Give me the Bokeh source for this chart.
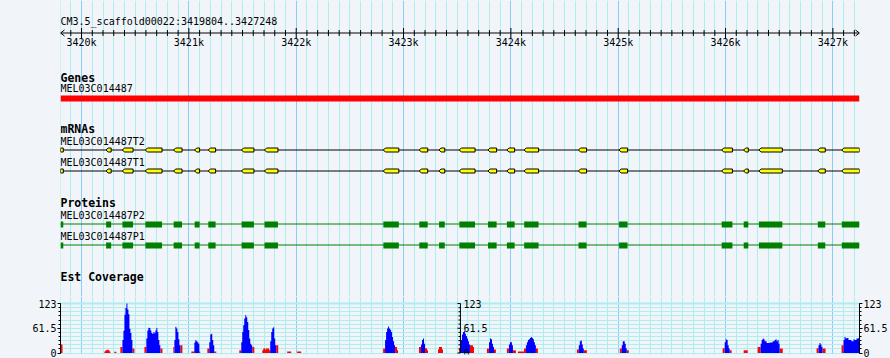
from bokeh.plotting import figure
from bokeh.layouts import column
from bokeh.models import Range1d, FixedTicker, LinearAxis, Span, ColumnDataSource
from bokeh.core.properties import value
from bokeh.embed import file_html
from bokeh.resources import INLINE

# ---------------- data ----------------
REGION_NAME = "CM3.5_scaffold00022"
REGION_START = 3419804
REGION_END = 3427248

ruler_major = [3420000, 3421000, 3422000, 3423000, 3424000, 3425000, 3426000, 3427000]
ruler_labels = ["3420k", "3421k", "3422k", "3423k", "3424k", "3425k", "3426k", "3427k"]
ruler_minor = [b for b in range(3419900, 3427300, 100) if b % 1000]
grid_minor = list(range(3419800, 3427300, 100))

gene_name = "MEL03C014487"
gene_start = 3419804
gene_end = 3427248

mrna_names = ["MEL03C014487T2", "MEL03C014487T1"]
exon_start = [3419804, 3420229, 3420381, 3420595, 3420858, 3421054, 3421181, 3421491,
              3421705, 3422812, 3423147, 3423331, 3423520, 3423787, 3423963, 3424124,
              3424630, 3425008, 3425964, 3426169, 3426311, 3426860, 3427083]
exon_end = [3419830, 3420276, 3420480, 3420750, 3420936, 3421100, 3421249, 3421606,
            3421830, 3422956, 3423225, 3423384, 3423666, 3423867, 3424035, 3424258,
            3424705, 3425087, 3426064, 3426212, 3426529, 3426929, 3427248]

protein_names = ["MEL03C014487P2", "MEL03C014487P1"]
cds_start = [3419804, 3420229, 3420381, 3420595, 3420858, 3421054, 3421181, 3421491,
             3421705, 3422812, 3423147, 3423331, 3423520, 3423787, 3423963, 3424124,
             3424630, 3425008, 3425964, 3426169, 3426311, 3426860, 3427083]
cds_end = [3419830, 3420276, 3420480, 3420750, 3420936, 3421100, 3421249, 3421606,
           3421830, 3422956, 3423225, 3423384, 3423666, 3423867, 3424035, 3424258,
           3424705, 3425087, 3426064, 3426212, 3426529, 3426929, 3427248]

EST_BIN_BP = 9.305
est_red_start = [3419804, 3420213, 3420306, 3420362, 3420474, 3420586, 3420735, 3420855,
                 3420921, 3421023, 3421097, 3421172, 3421237, 3421470, 3421591, 3421684,
                 3421814, 3421916, 3422009, 3422810, 3422921, 3423144, 3423200, 3423321,
                 3423517, 3423619, 3423777, 3423842, 3423963, 3424019, 3424066, 3424122,
                 3424233, 3424615, 3424680, 3425015, 3425080, 3425973, 3426038, 3426169,
                 3426299, 3426505, 3426848, 3426904, 3427081]
est_red_vals = [[21, 21], [4, 7, 7, 9, 7, 4], [3, 3], [15, 15], [11, 11], [15, 15], [11, 11], [15],
                [19, 19], [4, 4, 4], [4], [11, 11], [4, 4], [7, 7], [15, 15], [7, 11, 12, 9, 12, 11, 11, 7],
                [19, 19], [4, 4, 4, 4], [4, 4, 4, 4], [11, 11], [15, 15, 7], [15, 15], [12, 12, 7], [9, 15, 15, 15, 9],
                [11, 11], [19, 19, 19, 15], [11, 11], [9, 9], [11, 11], [7, 7, 7], [4, 4, 4, 4, 4, 4], [11, 11],
                [11, 11], [9, 9], [7, 7, 7], [11, 11], [7, 7], [12, 12], [7, 7], [7, 7, 7, 7],
                [15, 15, 15], [11, 11, 11], [12, 12], [11, 11, 11], [19, 19]]
est_blue_start = [3420381, 3420604, 3420865, 3421051, 3421190, 3421488, 3421758, 3422828,
                  3423163, 3423535, 3423796, 3423982, 3424140, 3424633, 3425033, 3425992,
                  3426327, 3426866, 3427099]
est_blue_vals = [[32, 55, 95, 112, 123, 108, 96, 60, 50, 32],
                 [36, 56, 63, 62, 56, 50, 47, 52, 49, 56, 62, 52, 32, 19],
                 [32, 65, 61, 52, 34, 19],
                 [26, 32, 29, 27, 23],
                 [27, 46, 48, 32, 19],
                 [27, 52, 69, 86, 94, 89, 77, 57, 36, 23, 19],
                 [29, 52, 61, 64, 36, 19],
                 [32, 52, 61, 66, 61, 58, 52, 40, 29, 19],
                 [21, 32, 36, 23],
                 [32, 46, 52, 54, 48, 42, 36, 29, 21],
                 [27, 36, 34, 23, 15],
                 [21, 27, 27, 19],
                 [19, 27, 32, 34, 37, 40, 37, 34, 27, 19],
                 [19, 29, 31, 21, 11],
                 [19, 29, 29, 23, 12],
                 [27, 34, 32, 19, 11],
                 [23, 32, 36, 34, 29, 29, 25, 25, 25, 26, 26, 26, 29, 29, 32, 34, 29, 32, 23],
                 [19, 25, 21, 15],
                 [32, 40, 36, 37, 37, 32, 32, 32, 29, 29, 34, 32, 32, 36, 36, 37]]
cov_ticks = [0, 61.5, 123]
cov_tick_labels = ["0", "61.5", "123"]
cov_grid = [0, 10.25, 20.5, 30.75, 41, 51.25, 61.5, 71.75, 82, 92.25, 102.5, 112.75, 123]
cov_max = 123
mid_axis_bp = 3423530

# ---------------- style ----------------
BG = "#f1f5f9"
MINOR = "paleturquoise"
MAJOR = "lightskyblue"
MONO = value("DejaVu Sans Mono")
BPP = (REGION_END - REGION_START) / 800.0   # bp per screen pixel
FS = value("10px")
FSB = value("11.5px")
W = 890
BL, BR = 60, 30

# ---------------- top tracks ----------------
top = figure(width=W, height=296,
             x_range=Range1d(REGION_START, REGION_END),
             y_range=Range1d(296, 0),
             output_backend="svg", toolbar_location=None,
             x_axis_location=None, y_axis_location=None,
             min_border_left=BL, min_border_right=BR, min_border_top=0, min_border_bottom=0,
             background_fill_color=BG, border_fill_color=BG, outline_line_color=None)
top.xgrid.ticker = FixedTicker(ticks=ruler_major, minor_ticks=grid_minor)
top.xgrid.grid_line_color = MAJOR
top.xgrid.minor_grid_line_color = MINOR
top.ygrid.visible = False

def txt(p, x, y, s, bold=False, align="left"):
    p.text(x=[x], y=[y], text=[s], text_font=MONO, text_font_size=FSB if bold else FS,
           text_font_style="bold" if bold else "normal", text_align=align,
           text_baseline="alphabetic", text_color="black")

# ruler
txt(top, REGION_START, 21, f"{REGION_NAME}:{REGION_START}..{REGION_END}")
top.segment(x0=[REGION_START], y0=[32.5], x1=[REGION_END], y1=[32.5], line_color="black", line_width=1)
top.segment(x0=[REGION_START, REGION_START, REGION_END, REGION_END],
            y0=[32.5, 32.5, 32.5, 32.5],
            x1=[REGION_START + 4 * BPP, REGION_START + 4 * BPP, REGION_END - 4 * BPP, REGION_END - 4 * BPP],
            y1=[29.5, 35.5, 29.5, 35.5], line_color="black", line_width=1)
top.segment(x0=ruler_major, y0=[27.5] * len(ruler_major), x1=ruler_major, y1=[37.5] * len(ruler_major),
            line_color="black", line_width=1)
top.segment(x0=ruler_minor, y0=[29.5] * len(ruler_minor), x1=ruler_minor, y1=[35.5] * len(ruler_minor),
            line_color="black", line_width=1)
top.text(x=ruler_major, y=[42] * len(ruler_major), text=ruler_labels, text_font=MONO,
         text_font_size=FS, text_align="center", text_baseline="alphabetic", text_color="black")

# genes
txt(top, REGION_START, 77, "Genes", bold=True)
txt(top, REGION_START, 88, gene_name)
top.quad(left=[gene_start], right=[gene_end], top=[95], bottom=[101], fill_color="#ff0000", line_color=None)

# mRNAs
txt(top, REGION_START, 128.5, "mRNAs", bold=True)
tip = 2 * BPP
for name, ylab, yc in zip(mrna_names, [141, 162], [149.5, 170.5]):
    txt(top, REGION_START, ylab, name)
    top.segment(x0=[exon_start[0]], y0=[yc], x1=[exon_end[-1]], y1=[yc], line_color="black", line_width=1)
    xs, ys = [], []
    for i, (s, e) in enumerate(zip(exon_start, exon_end)):
        if i == 0:
            xs.append([s, e, e, s])
            ys.append([yc - 2, yc - 2, yc + 2, yc + 2])
        else:
            xs.append([s, s + tip, e, e, s + tip])
            ys.append([yc, yc - 2, yc - 2, yc + 2, yc + 2])
    top.patches(xs=xs, ys=ys, fill_color="#ffff00", line_color="black", line_width=1)

# proteins
txt(top, REGION_START, 202, "Proteins", bold=True)
for name, ylab, yc in zip(protein_names, [215, 236], [223.5, 244.5]):
    txt(top, REGION_START, ylab, name)
    top.segment(x0=[cds_start[0]], y0=[yc], x1=[cds_end[-1]], y1=[yc], line_color="#008000", line_width=1)
    top.quad(left=cds_start, right=cds_end, top=[yc - 2.5] * len(cds_start),
             bottom=[yc + 3.5] * len(cds_start), fill_color="#008000", line_color=None)

txt(top, REGION_START, 276.5, "Est Coverage", bold=True)

# ---------------- coverage ----------------
Y_START = -1.5 * cov_max / 49.5
Y_END = cov_max + 7 * cov_max / 49.5
cov = figure(width=W, height=62,
             x_range=Range1d(REGION_START, REGION_END), y_range=Range1d(Y_START, Y_END),
             output_backend="svg", toolbar_location=None,
             x_axis_location=None, y_axis_location="left",
             min_border_left=BL, min_border_right=BR, min_border_top=0, min_border_bottom=4,
             background_fill_color=BG, border_fill_color=BG, outline_line_color=None)
cov.xgrid.ticker = FixedTicker(ticks=ruler_major, minor_ticks=grid_minor)
cov.xgrid.grid_line_color = MAJOR
cov.xgrid.minor_grid_line_color = MINOR
cov.ygrid.ticker = FixedTicker(ticks=cov_grid)
cov.ygrid.grid_line_color = MINOR
cov.add_layout(Span(location=cov_max, dimension="width", line_color=MINOR, line_width=2, level="underlay"))

def style_axis(ax):
    ax.ticker = FixedTicker(ticks=cov_ticks, minor_ticks=cov_grid)
    ax.bounds = (0, cov_max)
    ax.major_label_overrides = dict(zip(cov_ticks, cov_tick_labels))
    ax.major_tick_in = 0
    ax.major_tick_out = 3
    ax.minor_tick_in = 0
    ax.minor_tick_out = 2
    ax.major_label_standoff = 1
    ax.major_label_text_font = "DejaVu Sans Mono"
    ax.major_label_text_font_size = "10px"
    ax.major_label_text_color = "black"
    ax.axis_line_color = "black"
    ax.major_tick_line_color = "black"
    ax.minor_tick_line_color = "black"

style_axis(cov.yaxis[0])
right_axis = LinearAxis()
style_axis(right_axis)
cov.add_layout(right_axis, "right")

def step_patches(starts, vals):
    # one step-shaped outline per run of coverage bins (no seams between bins)
    xs, ys = [], []
    for s, vs in zip(starts, vals):
        px, py = [s], [0]
        for i, v in enumerate(vs):
            px += [s + i * EST_BIN_BP, s + (i + 1) * EST_BIN_BP]
            py += [v, v]
        px.append(s + len(vs) * EST_BIN_BP)
        py.append(0)
        xs.append(px)
        ys.append(py)
    return ColumnDataSource(dict(xs=xs, ys=ys))

cov.patches(xs="xs", ys="ys", source=step_patches(est_red_start, est_red_vals),
            fill_color="#ff0000", line_color=None)
cov.patches(xs="xs", ys="ys", source=step_patches(est_blue_start, est_blue_vals),
            fill_color="#0000ff", line_color=None)

# middle scale (drawn inside the track, labels on the right)
cov.segment(x0=[mid_axis_bp], y0=[0], x1=[mid_axis_bp], y1=[cov_max], line_color="black", line_width=1)
cov.segment(x0=[mid_axis_bp] * len(cov_grid), y0=cov_grid,
            x1=[mid_axis_bp - (3 if g in cov_ticks else 2) * BPP for g in cov_grid], y1=cov_grid,
            line_color="black", line_width=1)
cov.text(x=[mid_axis_bp] * 3, y=cov_ticks, text=cov_tick_labels, x_offset=3,
         text_font=MONO, text_font_size=FS, text_align="left", text_baseline="middle", text_color="black")

layout = column(top, cov)
html = file_html(layout, INLINE)
html = html.replace("<head>", "<head><style>html,body{background:#f1f5f9;}</style>", 1)
open("out.html", "w").write(html)
